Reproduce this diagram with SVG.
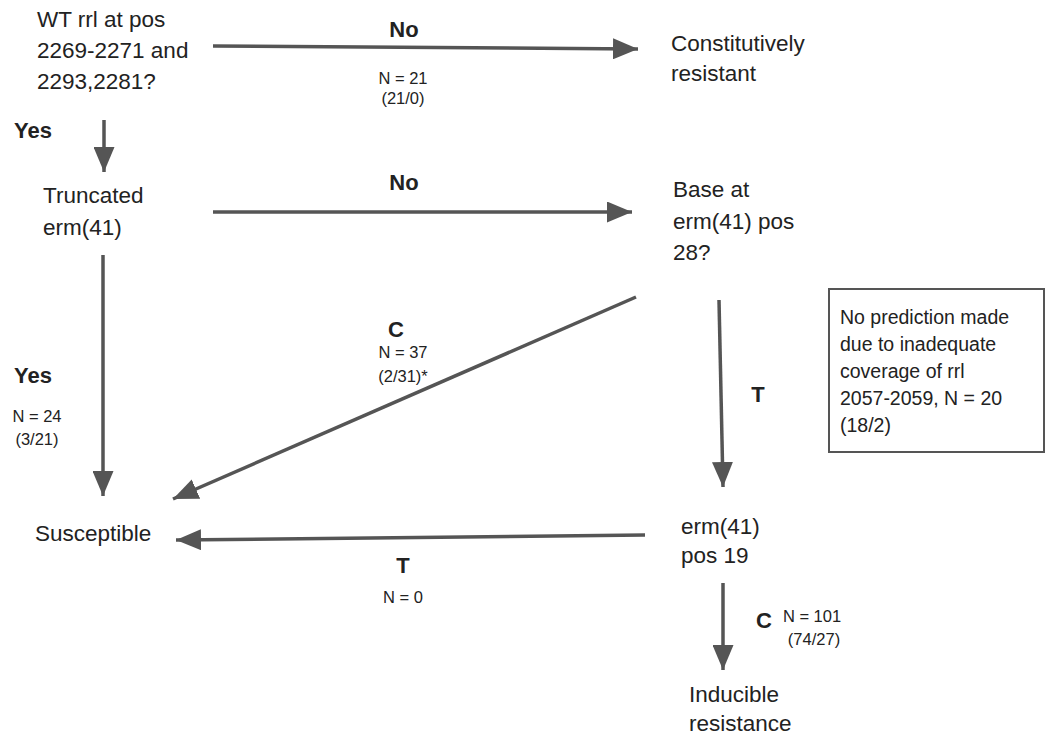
<svg xmlns="http://www.w3.org/2000/svg" width="1052" height="738" viewBox="0 0 1052 738">
<defs>
<style>
text{font-family:"Liberation Sans",Arial,sans-serif;fill:#222}
.n{font-size:22.5px}
.b{font-size:22px;font-weight:bold;text-anchor:middle}
.s{font-size:16.5px;text-anchor:middle}
.bx{font-size:19.5px}
.c{stroke:#555;stroke-width:3.5;fill:none;marker-end:url(#ah)}
</style>
<marker id="ah" viewBox="0 0 25 21" refX="25" refY="10.5" markerUnits="userSpaceOnUse" markerWidth="25" markerHeight="21" orient="auto">
<path d="M0,0 L25,10.5 L0,21 Z" fill="#555"/>
</marker>
</defs>
<rect width="1052" height="738" fill="#fff"/>
<g id="connectors">
<path class="c" d="M213,46 L638,49"/>
<path class="c" d="M104,120 L104,172"/>
<path class="c" d="M213,212 L632,212"/>
<path class="c" d="M103,255 L103,496"/>
<path class="c" d="M636,297 L173,499"/>
<path class="c" d="M719,300 L723,487"/>
<path class="c" d="M645,535 L176,540"/>
<path class="c" d="M723,583 L723,670"/>
</g>
<g id="labels">
<text class="b" x="404" y="37">No</text>
<text class="s" x="403" y="84">N = 21</text>
<text class="s" x="403" y="104">(21/0)</text>
<text class="b" x="33" y="138">Yes</text>
<text class="b" x="404" y="190">No</text>
<text class="b" x="33" y="383">Yes</text>
<text class="s" x="37" y="422">N = 24</text>
<text class="s" x="37" y="445">(3/21)</text>
<text class="b" x="396" y="337">C</text>
<text class="s" x="403" y="358">N = 37</text>
<text class="s" x="403" y="382">(2/31)*</text>
<text class="b" x="758" y="402">T</text>
<text class="b" x="403" y="573">T</text>
<text class="s" x="403" y="603">N = 0</text>
<text class="b" x="764" y="628">C</text>
<text class="s" x="812" y="622">N = 101</text>
<text class="s" x="814" y="645">(74/27)</text>
</g>
<g id="node-wt">
<text class="n" x="37" y="27">WT rrl at pos</text>
<text class="n" x="37" y="58">2269-2271 and</text>
<text class="n" x="37" y="89">2293,2281?</text>
</g>
<g id="node-constitutive">
<text class="n" x="671" y="51">Constitutively</text>
<text class="n" x="671" y="81">resistant</text>
</g>
<g id="node-truncated">
<text class="n" x="43" y="203">Truncated</text>
<text class="n" x="43" y="235">erm(41)</text>
</g>
<g id="node-base">
<text class="n" x="673" y="197">Base at</text>
<text class="n" x="673" y="229">erm(41) pos</text>
<text class="n" x="673" y="260">28?</text>
</g>
<g id="node-noprediction">
<rect x="829" y="289" width="215" height="163" fill="none" stroke="#555" stroke-width="2"/>
<text class="bx" x="840" y="324">No prediction made</text>
<text class="bx" x="840" y="351">due to inadequate</text>
<text class="bx" x="840" y="378">coverage of rrl</text>
<text class="bx" x="840" y="405">2057-2059, N = 20</text>
<text class="bx" x="840" y="432">(18/2)</text>
</g>
<g id="node-susceptible">
<text class="n" x="35" y="541">Susceptible</text>
</g>
<g id="node-pos19">
<text class="n" x="681" y="534">erm(41)</text>
<text class="n" x="681" y="563">pos 19</text>
</g>
<g id="node-inducible">
<text class="n" x="689" y="702">Inducible</text>
<text class="n" x="689" y="731">resistance</text>
</g>
</svg>
